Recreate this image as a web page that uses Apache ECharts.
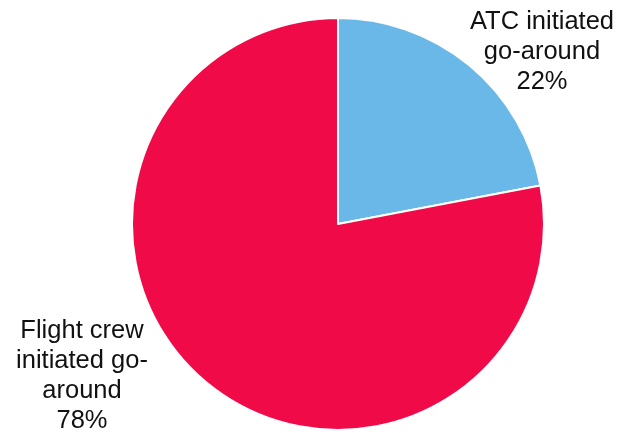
<!DOCTYPE html>
<html>
<head>
<meta charset="utf-8">
<script src="https://cdn.jsdelivr.net/npm/echarts@6/dist/echarts.min.js"></script>
<style>
  html, body { margin: 0; padding: 0; background: #fff; }
  #chart { width: 622px; height: 433px; }
</style>
</head>
<body>
<div id="chart"></div>
<script>
// Share of go-arounds by who initiated them
const categories = ['ATC initiated\ngo-around', 'Flight crew\ninitiated go-\naround'];
const shares = [22, 78];
const colors = ['#69B8E8', '#F00A47'];
// Label anchor points (centre of each text block)
const labelAnchors = [[542, 52], [82, 376]];

const chart = echarts.init(document.getElementById('chart'), null, { renderer: 'canvas' });

chart.setOption({
  animation: false,
  backgroundColor: '#ffffff',
  series: [{
    type: 'pie',
    center: [338, 224],
    radius: 206,
    startAngle: 90,
    clockwise: true,
    data: categories.map((name, i) => ({
      name: name,
      value: shares[i],
      itemStyle: { color: colors[i] }
    })),
    itemStyle: { borderColor: '#ffffff', borderWidth: 2 },
    label: {
      show: true,
      position: 'outside',
      formatter: '{b}\n{c}%',
      fontFamily: 'Liberation Sans, Arial, sans-serif',
      fontSize: 25.5,
      lineHeight: 30,
      color: '#111111',
      align: 'center',
      overflow: 'none',
      width: 200
    },
    labelLine: { show: false },
    labelLayout: function (params) {
      const p = labelAnchors[params.dataIndex];
      return { x: p[0], y: p[1], align: 'center', verticalAlign: 'middle' };
    },
    emphasis: { disabled: true }
  }]
});
</script>
</body>
</html>
